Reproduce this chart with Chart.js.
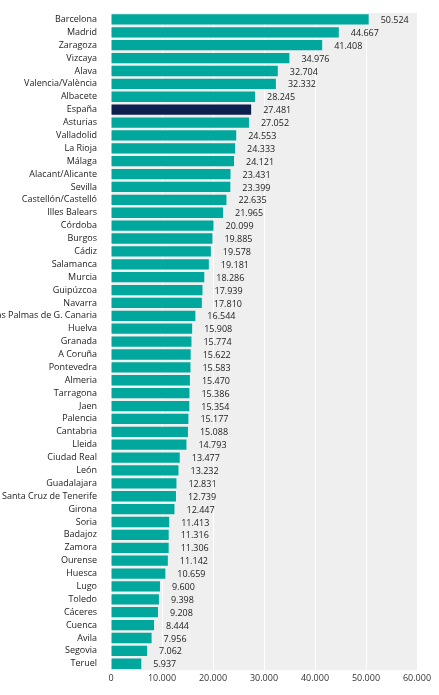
<!DOCTYPE html>
<html>
<head>
<meta charset="utf-8">
<script src="https://cdn.jsdelivr.net/npm/chart.js@4"></script>
<style>
body { margin: 0; background: #fff; }
#wrap { width: 439px; height: 695px; }
</style>
</head>
<body>
<div id="wrap"><canvas id="myChart"></canvas></div>
<script>
let labels = ['Barcelona','Madrid','Zaragoza','Vizcaya','Alava','Valencia/València','Albacete','España','Asturias','Valladolid','La Rioja','Málaga','Alacant/Alicante','Sevilla','Castellón/Castelló','Illes Balears','Córdoba','Burgos','Cádiz','Salamanca','Murcia','Guipúzcoa','Navarra','Las Palmas de G. Canaria','Huelva','Granada','A Coruña','Pontevedra','Almeria','Tarragona','Jaen','Palencia','Cantabria','Lleida','Ciudad Real','León','Guadalajara','Santa Cruz de Tenerife','Girona','Soria','Badajoz','Zamora','Ourense','Huesca','Lugo','Toledo','Cáceres','Cuenca','Avila','Segovia','Teruel'];
let values = [50524,44667,41408,34976,32704,32332,28245,27481,27052,24553,24333,24121,23431,23399,22635,21965,20099,19885,19578,19181,18286,17939,17810,16544,15908,15774,15622,15583,15470,15386,15354,15177,15088,14793,13477,13232,12831,12739,12447,11413,11316,11306,11142,10659,9600,9398,9208,8444,7956,7062,5937];
let colors = labels.map(l => l === 'España' ? '#0c1f4f' : '#00a79d');

let fmt = v => v.toLocaleString('de-DE');

let bgPlugin = {
    id: 'bg',
    beforeDraw: chart => {
        let a = chart.chartArea;
        chart.ctx.save();
        chart.ctx.fillStyle = '#efefef';
        chart.ctx.fillRect(a.left, a.top, a.right - a.left, a.bottom - a.top);
        chart.ctx.restore();
    }
};

let valuePlugin = {
    id: 'values',
    afterDatasetsDraw: chart => {
        let ctx = chart.ctx;
        ctx.save();
        ctx.font = '9px "Open Sans"';
        ctx.fillStyle = '#222';
        ctx.textBaseline = 'middle';
        chart.getDatasetMeta(0).data.forEach((bar, i) => {
            ctx.fillText(fmt(values[i]), bar.x + 12, bar.y + 1);
        });
        ctx.restore();
    }
};

let ctx = document.getElementById('myChart').getContext('2d');
let myChart = new Chart(ctx, {
    type: 'bar',
    data: {
        labels: labels,
        datasets: [{
            data: values,
            backgroundColor: colors,
            barPercentage: 0.8,
            categoryPercentage: 1
        }]
    },
    options: {
        indexAxis: 'y',
        responsive: true,
        maintainAspectRatio: false,
        animation: false,
        layout: { padding: { top: 13, right: 22, bottom: 8, left: 0 } },
        plugins: { legend: { display: false }, tooltip: { enabled: false } },
        scales: {
            x: {
                min: 0, max: 60000,
                ticks: { stepSize: 10000, callback: v => fmt(v), color: '#333', font: { size: 9, family: 'Open Sans' }, maxRotation: 0 },
                grid: { color: '#ffffff', drawTicks: false },
                border: { display: false }
            },
            y: {
                ticks: { color: '#222', font: { size: 9, family: 'Open Sans' }, autoSkip: false, padding: 6 },
                grid: { display: false },
                border: { display: false },
                afterFit: s => { s.width = 111; }
            }
        }
    },
    plugins: [bgPlugin, valuePlugin]
});
</script>
</body>
</html>
